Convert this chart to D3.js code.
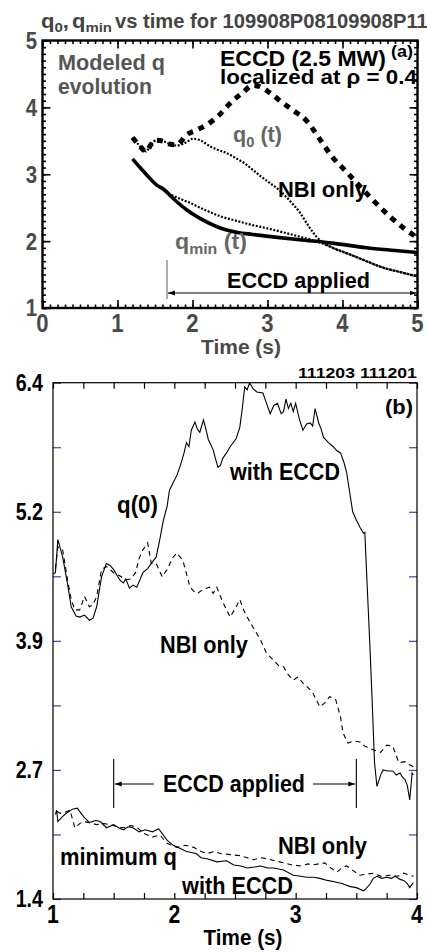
<!DOCTYPE html>
<html><head><meta charset="utf-8">
<script src="https://cdn.jsdelivr.net/npm/d3@7"></script>
<style>
body{margin:0;background:#fff}
text{font-family:'Liberation Sans',Arial,sans-serif;font-weight:bold}
</style>
</head><body>
<svg id="c" width="427" height="952"></svg>
<script>
// ---------- DATA: panel (a) ----------
const topTimeTicks = [0, 1, 2, 3, 4, 5];
const topQTicks = [1, 2, 3, 4, 5];
const q0Eccd = [[1.2,3.55],[1.3,3.42],[1.38,3.34],[1.45,3.45],[1.52,3.51],[1.62,3.49],[1.7,3.45],[1.79,3.44],[1.92,3.59],[2.05,3.66],[2.19,3.74],[2.36,3.89],[2.5,4.06],[2.68,4.23],[2.8,4.33],[2.92,4.3],[3.03,4.22],[3.2,4.07],[3.35,3.95],[3.52,3.8],[3.7,3.52],[3.87,3.25],[4.05,3.04],[4.19,2.87],[4.4,2.62],[4.63,2.37],[4.81,2.2],[5.0,2.05]];
const q0Nbi = [[1.2,3.55],[1.3,3.42],[1.38,3.34],[1.45,3.45],[1.52,3.51],[1.62,3.49],[1.7,3.45],[1.79,3.43],[1.92,3.48],[2.0,3.53],[2.1,3.51],[2.23,3.42],[2.35,3.36],[2.45,3.32],[2.58,3.24],[2.7,3.16],[2.8,3.07],[2.92,2.96],[3.03,2.87],[3.17,2.75],[3.3,2.6],[3.43,2.43],[3.55,2.22],[3.65,2.07],[3.87,1.9],[4.1,1.8],[4.32,1.7],[4.55,1.6],[4.76,1.54],[5.0,1.47]];
const qminEccd = [[1.2,3.23],[1.3,3.1],[1.39,2.99],[1.52,2.84],[1.61,2.78],[1.75,2.63],[1.92,2.47],[2.1,2.34],[2.36,2.2],[2.6,2.13],[2.8,2.1],[3.1,2.06],[3.43,2.02],[3.87,1.97],[4.32,1.9],[4.7,1.86],[5.0,1.83]];
const qminNbi = [[1.72,2.69],[1.8,2.65],[1.95,2.58],[2.14,2.48],[2.4,2.36],[2.6,2.3],[2.8,2.24],[3.0,2.19],[3.25,2.12],[3.45,2.06],[3.65,2.0],[3.87,1.9],[4.1,1.8],[4.32,1.7],[4.55,1.6],[4.76,1.54],[5.0,1.47]];
const topEccdStart = 1.66, topEccdEnd = 5.0;

// ---------- DATA: panel (b) ----------
const botTimeTicks = [1, 2, 3, 4];
const botQTickValues = [1.4, 2.025, 2.65, 3.275, 3.9, 4.525, 5.15, 5.775, 6.4];
const botQTickLabels = ["1.4", "", "2.7", "", "3.9", "", "5.2", "", "6.4"];
const q0WithEccd = [[1.0,4.55],[1.02,4.56],[1.04,4.88],[1.08,4.71],[1.12,4.45],[1.15,4.23],[1.19,4.14],[1.22,4.13],[1.26,4.15],[1.3,4.1],[1.33,4.12],[1.36,4.23],[1.4,4.52],[1.44,4.65],[1.47,4.63],[1.5,4.59],[1.55,4.49],[1.58,4.46],[1.6,4.5],[1.63,4.41],[1.66,4.44],[1.69,4.42],[1.72,4.5],[1.74,4.56],[1.78,4.6],[1.81,4.65],[1.85,4.71],[1.88,4.88],[1.91,5.07],[1.94,5.2],[1.96,5.36],[1.99,5.43],[2.02,5.5],[2.05,5.6],[2.08,5.72],[2.1,5.82],[2.12,5.78],[2.14,5.94],[2.17,6.02],[2.19,5.95],[2.21,5.92],[2.24,6.04],[2.26,5.95],[2.28,5.85],[2.32,5.75],[2.34,5.66],[2.36,5.58],[2.38,5.6],[2.4,5.67],[2.43,5.72],[2.46,5.78],[2.51,5.86],[2.54,5.97],[2.56,6.15],[2.58,6.36],[2.6,6.33],[2.62,6.4],[2.65,6.34],[2.68,6.31],[2.73,6.3],[2.76,6.2],[2.79,6.1],[2.82,6.18],[2.85,6.2],[2.88,6.1],[2.9,6.12],[2.92,6.24],[2.94,6.15],[2.96,6.2],[2.98,6.12],[3.0,6.2],[3.03,6.05],[3.06,5.94],[3.09,6.0],[3.12,6.01],[3.14,5.98],[3.16,6.15],[3.19,6.01],[3.21,5.95],[3.23,5.87],[3.27,5.82],[3.31,5.78],[3.34,5.74],[3.37,5.72],[3.4,5.62],[3.42,5.53],[3.45,5.3],[3.47,5.15],[3.5,5.07],[3.53,5.0],[3.56,4.94],[3.57,4.95],[3.59,4.42],[3.61,3.9],[3.63,3.33],[3.65,2.72],[3.67,2.49],[3.7,2.6],[3.72,2.65],[3.76,2.64],[3.8,2.64],[3.83,2.6],[3.86,2.62],[3.88,2.58],[3.9,2.56],[3.92,2.5],[3.94,2.36],[3.96,2.62],[3.97,2.6]];
const q0NbiOnly = [[1.02,4.6],[1.04,4.81],[1.08,4.78],[1.12,4.49],[1.15,4.3],[1.18,4.2],[1.22,4.2],[1.26,4.33],[1.3,4.23],[1.33,4.25],[1.36,4.33],[1.4,4.59],[1.44,4.62],[1.5,4.56],[1.55,4.53],[1.6,4.49],[1.64,4.5],[1.68,4.56],[1.71,4.7],[1.74,4.78],[1.78,4.85],[1.81,4.65],[1.85,4.65],[1.9,4.52],[1.94,4.59],[1.99,4.71],[2.02,4.75],[2.07,4.68],[2.1,4.55],[2.13,4.42],[2.16,4.38],[2.19,4.36],[2.24,4.4],[2.29,4.42],[2.32,4.36],[2.35,4.42],[2.39,4.3],[2.43,4.2],[2.46,4.13],[2.51,4.23],[2.54,4.3],[2.57,4.2],[2.6,4.13],[2.65,4.03],[2.71,3.91],[2.76,3.78],[2.82,3.71],[2.86,3.66],[2.9,3.65],[2.94,3.57],[2.98,3.52],[3.02,3.55],[3.06,3.49],[3.1,3.45],[3.14,3.4],[3.2,3.26],[3.24,3.3],[3.28,3.36],[3.33,3.33],[3.37,3.16],[3.39,3.01],[3.43,2.91],[3.48,2.93],[3.53,2.92],[3.57,2.88],[3.61,2.86],[3.65,2.84],[3.7,2.82],[3.75,2.89],[3.8,2.88],[3.85,2.72],[3.9,2.73],[3.94,2.7],[3.97,2.68]];
const qminWithEccd = [[1.02,2.22],[1.03,2.26],[1.04,2.15],[1.08,2.2],[1.11,2.23],[1.16,2.27],[1.2,2.28],[1.25,2.2],[1.3,2.14],[1.35,2.16],[1.39,2.15],[1.44,2.09],[1.5,2.12],[1.54,2.09],[1.58,2.07],[1.62,2.1],[1.66,2.09],[1.71,2.05],[1.76,2.07],[1.82,2.05],[1.87,2.08],[1.94,1.97],[1.99,1.92],[2.05,1.89],[2.1,1.86],[2.18,1.84],[2.22,1.8],[2.27,1.79],[2.35,1.76],[2.43,1.77],[2.49,1.73],[2.55,1.72],[2.6,1.7],[2.66,1.71],[2.71,1.72],[2.77,1.7],[2.82,1.7],[2.9,1.68],[2.98,1.63],[3.04,1.62],[3.09,1.61],[3.15,1.61],[3.2,1.6],[3.26,1.58],[3.31,1.57],[3.38,1.55],[3.45,1.52],[3.5,1.51],[3.56,1.48],[3.58,1.5],[3.61,1.54],[3.64,1.6],[3.67,1.62],[3.71,1.6],[3.75,1.61],[3.79,1.6],[3.82,1.62],[3.86,1.59],[3.89,1.58],[3.92,1.55],[3.94,1.51],[3.97,1.56]];
const qminNbiOnly = [[1.03,2.25],[1.06,2.23],[1.1,2.24],[1.14,2.26],[1.18,2.09],[1.22,2.13],[1.25,2.15],[1.3,2.14],[1.36,2.12],[1.42,2.13],[1.47,2.12],[1.53,2.1],[1.58,2.09],[1.64,2.11],[1.69,2.1],[1.74,2.04],[1.78,2.02],[1.82,2.0],[1.88,2.02],[1.94,1.94],[2.02,1.9],[2.09,1.92],[2.16,1.9],[2.22,1.86],[2.27,1.84],[2.33,1.86],[2.38,1.84],[2.46,1.83],[2.54,1.82],[2.6,1.8],[2.65,1.78],[2.71,1.8],[2.76,1.79],[2.83,1.77],[2.9,1.75],[2.97,1.73],[3.04,1.72],[3.1,1.74],[3.14,1.73],[3.19,1.74],[3.24,1.75],[3.29,1.7],[3.34,1.66],[3.38,1.7],[3.42,1.72],[3.48,1.67],[3.53,1.63],[3.58,1.64],[3.64,1.65],[3.7,1.62],[3.78,1.63],[3.84,1.62],[3.89,1.65],[3.94,1.63],[3.97,1.62]];
const botEccdStart = 1.5, botEccdEnd = 3.5;

// ---------- DRAW ----------
const svg = d3.select('#c');
const defs = svg.append('defs');
defs.append('marker').attr('id','arr').attr('viewBox','0 0 10 10').attr('refX',10).attr('refY',5)
  .attr('markerWidth',7).attr('markerHeight',7).attr('markerUnits','userSpaceOnUse').attr('orient','auto-start-reverse')
  .append('path').attr('d','M0,1.5L10,5L0,8.5Z').attr('fill','#000');

// text helper: size from cap height, then squeezed horizontally to the reference width
function txt(g, x, y, size, fill, str, len, anchor){
  const t = g.append('text').attr('x',x).attr('y',y).attr('font-size',size).attr('fill',fill)
    .attr('text-anchor',anchor||'start').attr('xml:space','preserve');
  if (typeof str === 'string') t.text(str);
  else {
    let shifted = false;
    str.forEach(([s,sub])=>{
      const sp = t.append('tspan').attr('font-size', sub ? size*0.68 : size).text(s);
      if (sub && !shifted){ sp.attr('dy', size*0.22); shifted = true; }
      else if (!sub && shifted){ sp.attr('dy', -size*0.22); shifted = false; }
    });
  }
  if (len){
    const w = t.node().getComputedTextLength();
    const k = len / w;
    t.attr('transform', `translate(${x},0) scale(${k},1) translate(${-x},0)`);
  }
  return t;
}

// Panel (a)
const xa = d3.scaleLinear().domain([0,5]).range([42.5,417.5]);
const ya = d3.scaleLinear().domain([1,5]).range([308,40.5]);
const ga = svg.append('g');
const grey = '#4a4a4a';

function frameTicks(g, x, y, minorX, minorY, majX, majY, sizeMinor, sizeMajor, color, width){
  const [x0,x1] = x.range(), [y0,y1] = y.range();
  const sides = [
    [d3.axisBottom(x), minorX, majX, 'translate(0,'+y0+')'],
    [d3.axisTop(x), minorX, majX, 'translate(0,'+y1+')'],
    [d3.axisLeft(y), minorY, majY, 'translate('+x0+',0)'],
    [d3.axisRight(y), minorY, majY, 'translate('+x1+',0)']
  ];
  sides.forEach(([ax,minor,maj,tr])=>{
    [[minor,sizeMinor],[maj,sizeMajor]].forEach(([vals,sz])=>{
      const gm = g.append('g').attr('transform',tr).call(ax.tickValues(vals).tickSize(-sz).tickFormat(''));
      gm.select('.domain').remove();
      gm.selectAll('line').attr('stroke',color).attr('stroke-width',width);
    });
  });
}
const minorXa = d3.range(0, 5.0001, 0.1).map(v=>+v.toFixed(2));
const minorYa = d3.range(1, 5.0001, 0.1).map(v=>+v.toFixed(2));
frameTicks(ga, xa, ya, minorXa, minorYa, topTimeTicks, topQTicks, 3.5, 8, '#000', 1.6);
ga.append('rect').attr('x',xa(0)).attr('y',ya(5)).attr('width',xa(5)-xa(0)).attr('height',ya(1)-ya(5))
  .attr('fill','none').attr('stroke','#000').attr('stroke-width',2.4);

// tick labels (a)
ga.selectAll('.xl').data(topTimeTicks).join('text').attr('x',d=>xa(d)).attr('y',332)
  .attr('text-anchor','middle').attr('font-size',26).attr('fill',grey)
  .attr('transform',d=>`translate(${xa(d)},0) scale(0.85,1) translate(${-xa(d)},0)`).text(d=>d);
ga.selectAll('.yl').data(topQTicks).join('text').attr('x',37).attr('y',d=>ya(d)+8.5)
  .attr('text-anchor','end').attr('font-size',24).attr('fill',grey)
  .attr('transform','translate(37,0) scale(0.85,1) translate(-37,0)').text(d=>d);
txt(ga, 241, 354, 21, grey, 'Time (s)', 80, 'middle');

// title (three pieces placed as in the reference)
txt(ga, 41, 28, 20, '#444', [['q'],['0',1],[',']], 28);
txt(ga, 72, 28, 20, '#444', [['q'],['min',1]], 40);
txt(ga, 115, 28, 20, '#444', 'vs time for 109908P08109908P11', 313);

// lines (a)
const la = d3.line().x(d=>xa(d[0])).y(d=>ya(d[1])).curve(d3.curveMonotoneX);
ga.append('path').datum(qminNbi).attr('d',la).attr('fill','none').attr('stroke','#000').attr('stroke-width',2.2).attr('stroke-dasharray','2,1.6');
ga.append('path').datum(q0Nbi).attr('d',la).attr('fill','none').attr('stroke','#000').attr('stroke-width',2.2).attr('stroke-dasharray','2,1.6');
ga.append('path').datum(qminEccd).attr('d',la).attr('fill','none').attr('stroke','#000').attr('stroke-width',3.6);
ga.append('path').datum(q0Eccd).attr('d',la).attr('fill','none').attr('stroke','#000').attr('stroke-width',5).attr('stroke-dasharray','6,6');

// ECCD applied (a)
ga.append('line').attr('x1',xa(topEccdStart)).attr('x2',xa(topEccdStart)).attr('y1',260).attr('y2',299).attr('stroke','#777').attr('stroke-width',1.2);
ga.append('line').attr('x1',xa(topEccdStart)+1).attr('x2',xa(topEccdEnd)-1).attr('y1',293).attr('y2',293)
  .attr('stroke','#000').attr('stroke-width',1.2).attr('marker-start','url(#arr)').attr('marker-end','url(#arr)');
txt(ga, 227, 288, 22, '#000', 'ECCD applied', 143);

// annotations (a)
txt(ga, 58, 70, 22, '#555', 'Modeled q', 107);
txt(ga, 58, 94, 22, '#555', 'evolution', 94);
txt(ga, 220, 66, 22, '#000', 'ECCD (2.5 MW)', 166);
txt(ga, 391, 57, 16, '#000', '(a)', 22);
txt(ga, 220, 84, 21, '#000', 'localized at ρ = 0.4', 197);
txt(ga, 233, 142, 22, '#666', [['q'],['0',1],[' (t)']], 49);
txt(ga, 278, 197, 22, '#000', 'NBI only', 89);
txt(ga, 175, 249, 22, '#666', [['q'],['min',1],[' (t)']], 72);

// Panel (b)
const xb = d3.scaleLinear().domain([1,4]).range([53,417]);
const yb = d3.scaleLinear().domain([1.4,6.4]).range([899,382.7]);
const gb = svg.append('g');
const xTicksB = d3.range(1, 4.0001, 0.25);
[['b', yb(1.4)], ['t', yb(6.4)]].forEach(([s,yy])=>{
  const ax = (s==='b'?d3.axisBottom(xb):d3.axisTop(xb)).tickValues(xTicksB).tickSize(-6).tickFormat('');
  const g = gb.append('g').attr('transform','translate(0,'+yy+')').call(ax);
  g.select('.domain').remove(); g.selectAll('line').attr('stroke','#000').attr('stroke-width',1.2);
});
[['l', xb(1)], ['r', xb(4)]].forEach(([s,xx])=>{
  const ax = (s==='l'?d3.axisLeft(yb):d3.axisRight(yb)).tickValues(botQTickValues).tickSize(-8).tickFormat('');
  const g = gb.append('g').attr('transform','translate('+xx+',0)').call(ax);
  g.select('.domain').remove(); g.selectAll('line').attr('stroke','#4b3f9a').attr('stroke-width',1.2);
});
gb.append('rect').attr('x',xb(1)).attr('y',yb(6.4)).attr('width',xb(4)-xb(1)).attr('height',yb(1.4)-yb(6.4))
  .attr('fill','none').attr('stroke','#000').attr('stroke-width',1.2);

gb.selectAll('.yl').data(botQTickValues).join('text').attr('x',43).attr('y',d=>yb(d)+8.5)
  .attr('text-anchor','end').attr('font-size',24).attr('fill','#000')
  .attr('transform','translate(43,0) scale(0.82,1) translate(-43,0)').text((d,i)=>botQTickLabels[i]);
gb.selectAll('.xl').data(botTimeTicks).join('text').attr('x',d=>xb(d)).attr('y',923)
  .attr('text-anchor','middle').attr('font-size',25).attr('fill','#000')
  .attr('transform',d=>`translate(${xb(d)},0) scale(0.85,1) translate(${-xb(d)},0)`).text(d=>d);
txt(gb, 243, 945, 22, '#000', 'Time (s)', 79, 'middle');
txt(gb, 298, 378, 14, '#000', '111203 111201', 119);
txt(gb, 385, 414, 21, '#000', '(b)', 28);

const lb = d3.line().x(d=>xb(d[0])).y(d=>yb(d[1]));
gb.append('path').datum(q0NbiOnly).attr('d',lb).attr('fill','none').attr('stroke','#000').attr('stroke-width',1.1).attr('stroke-dasharray','5,4');
gb.append('path').datum(qminNbiOnly).attr('d',lb).attr('fill','none').attr('stroke','#000').attr('stroke-width',1.1).attr('stroke-dasharray','5,4');
gb.append('path').datum(q0WithEccd).attr('d',lb).attr('fill','none').attr('stroke','#000').attr('stroke-width',1.1);
gb.append('path').datum(qminWithEccd).attr('d',lb).attr('fill','none').attr('stroke','#000').attr('stroke-width',1.1);

// ECCD applied (b)
[botEccdStart, botEccdEnd].forEach(t=>{
  gb.append('line').attr('x1',xb(t)).attr('x2',xb(t)).attr('y1',759).attr('y2',808).attr('stroke','#000').attr('stroke-width',1.1);
});
gb.append('line').attr('x1',xb(botEccdStart)+1).attr('x2',154).attr('y1',784).attr('y2',784)
  .attr('stroke','#000').attr('stroke-width',1.1).attr('marker-start','url(#arr)');
gb.append('line').attr('x1',313).attr('x2',xb(botEccdEnd)-1).attr('y1',784).attr('y2',784)
  .attr('stroke','#000').attr('stroke-width',1.1).attr('marker-end','url(#arr)');
txt(gb, 163, 792, 23, '#000', 'ECCD applied', 142);

txt(gb, 117, 513, 23, '#000', 'q(0)', 41);
txt(gb, 230, 480, 23, '#000', 'with ECCD', 110);
txt(gb, 160, 653, 24, '#000', 'NBI only', 88);
txt(gb, 60, 865, 23, '#000', 'minimum q', 117);
txt(gb, 278, 854, 23, '#000', 'NBI only', 89);
txt(gb, 182, 894, 23, '#000', 'with ECCD', 111);
</script>
</body></html>
